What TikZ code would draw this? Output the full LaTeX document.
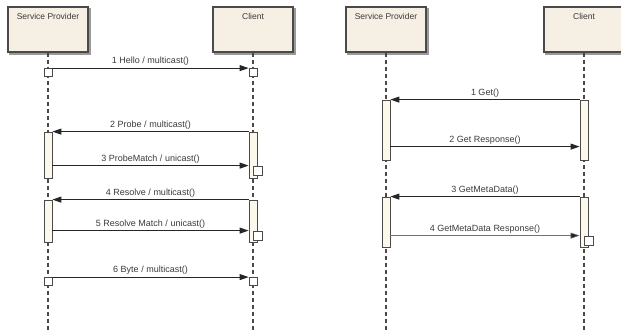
\documentclass[tikz,border=0pt]{standalone}
\usepackage{fontspec}
\setmainfont{Liberation Sans}
\usetikzlibrary{arrows.meta,calc,backgrounds}
\definecolor{edgegray}{HTML}{4A4A4A}
\definecolor{boxfill}{HTML}{F5EFE4}
\definecolor{barfill}{HTML}{FCF9EC}
\definecolor{inkgray}{HTML}{3A3A3A}
\definecolor{shadowgray}{HTML}{9A9A9A}

\tikzset{
  actor/.style={draw=edgegray, line width=1.3pt, fill=boxfill,
    minimum width=80pt, inner sep=5pt, text height=8pt, text depth=27pt,
    font=\fontsize{8.5}{10}\selectfont, text=inkgray},
  boxshadow/.style={fill=shadowgray},
  lifeline/.style={draw=edgegray, line width=1.2pt, dash pattern=on 4pt off 3pt},
  actbar/.style={draw=edgegray, line width=0.8pt, fill=barfill, minimum width=8pt, inner sep=0pt},
  occ/.style={draw=edgegray, line width=0.8pt, fill=white, minimum size=8pt, inner sep=0pt},
  occbig/.style={occ, minimum size=9pt},
  msg/.style={draw=black!85, line width=1pt, -{Triangle[length=9pt,width=6pt]}},
  thinmsg/.style={draw=black!55, line width=0.5pt, -{Triangle[length=9pt,width=6pt,fill=black!85]}},
  lbl/.style={above, inner sep=2pt, font=\fontsize{9}{10}\selectfont, text=inkgray}
}

\begin{document}
\begin{tikzpicture}[x=1pt,y=-1pt]
\useasboundingbox (0,0) rectangle (621,331);
\coordinate (bottom) at (0,331);

% participants
\node[actor] (sp1) at (48,29.5) {Service Provider};
\node[actor] (c1) at (253,29.5) {Client};
\node[actor] (sp2) at (386,29.5) {Service Provider};
\node[actor] (c2) at (584,29.5) {Client};

% shadows behind the participant boxes
\begin{scope}[on background layer]
  \foreach \p in {sp1,c1,sp2,c2}
    \fill[boxshadow] ([shift={(2pt,-2pt)}]\p.south west) rectangle ([shift={(2pt,-2pt)}]\p.north east);
\end{scope}

% lifelines
\foreach \p in {sp1,c1,sp2,c2}
  \draw[lifeline] (\p.south) -- (\p.south |- bottom);

% ---- discovery sequence ----
\node[occ] (s1a) at (48,72.5) {};
\node[occ] (s1b) at (253,72.5) {};
\draw[msg] (s1a.north east) -- node[lbl] {1 Hello / multicast()} (s1b.north west);

\node[actbar, minimum height=46pt] (a2s) at (48,155) {};
\node[actbar, minimum height=46pt] (a2c) at (253,155) {};
\draw[msg] (a2c.north west) -- node[lbl] {2 Probe / multicast()} (a2s.north east);
\node[occbig] (q3) at (257.5,170.5) {};
\draw[msg] (a2s.east |- q3.north) -- node[lbl] {3 ProbeMatch / unicast()} (a2c.west |- q3.north);

\node[actbar, minimum height=42pt] (a4s) at (48,221) {};
\node[actbar, minimum height=42pt] (a4c) at (253,221) {};
\draw[msg] (a4c.north west) -- node[lbl] {4 Resolve / multicast()} (a4s.north east);
\node[occbig] (q5) at (257.5,235.5) {};
\draw[msg] (a4s.east |- q5.north) -- node[lbl] {5 Resolve Match / unicast()} (a4c.west |- q5.north);

\node[occ] (s6a) at (48,281.5) {};
\node[occ] (s6b) at (253,281.5) {};
\draw[msg] (s6a.north east) -- node[lbl] {6 Byte / multicast()} (s6b.north west);

% ---- metadata exchange ----
\node[actbar, minimum height=60pt] (b1s) at (386,130) {};
\node[actbar, minimum height=60pt] (b1c) at (584,130) {};
\draw[msg] (b1c.north west) -- node[lbl] {1 Get()} (b1s.north east);
\draw[msg] ($(b1s.north east)+(0,47)$) -- node[lbl] {2 Get Response()} ($(b1c.north west)+(0,47)$);

\node[actbar, minimum height=50pt] (b3s) at (386,222) {};
\node[actbar, minimum height=50pt] (b3c) at (584,222) {};
\draw[msg] (b3c.north west) -- node[lbl] {3 GetMetaData()} (b3s.north east);
\node[occbig] (q4) at (588.5,240.5) {};
\draw[thinmsg] (b3s.east |- q4.north) -- node[lbl] {4 GetMetaData Response()} (b3c.west |- q4.north);
\end{tikzpicture}
\end{document}
